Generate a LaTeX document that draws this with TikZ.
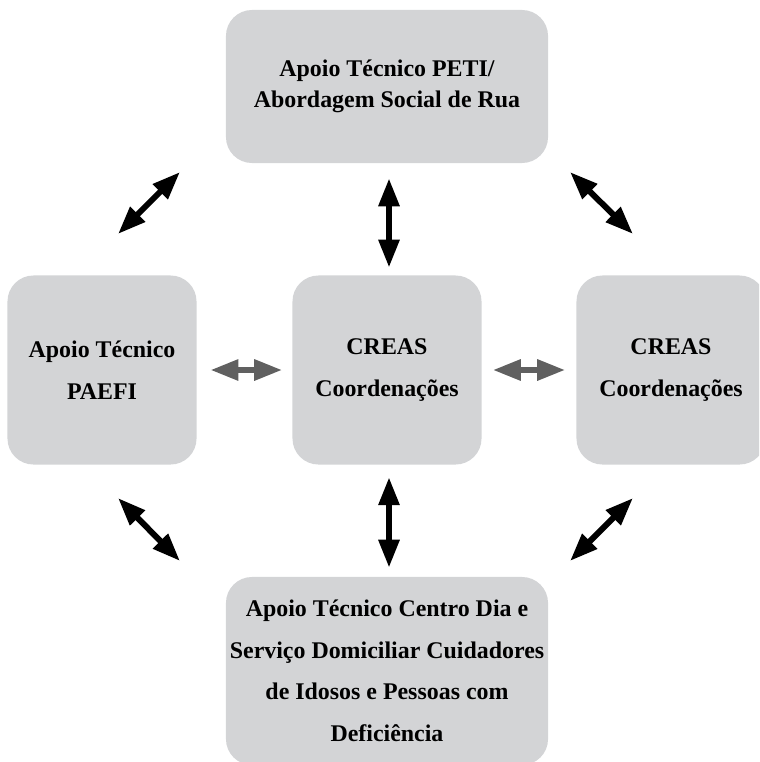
\documentclass[tikz,border=0pt]{standalone}
\usepackage{fontspec}
\setmainfont{Liberation Serif}
\usetikzlibrary{arrows.meta}
\definecolor{boxgray}{RGB}{211,212,214}
\definecolor{arrowgray}{RGB}{96,96,96}

\begin{document}
\begin{tikzpicture}[x=0.025cm, y=-0.025cm,
  box/.style={fill=boxgray, rounded corners=0.65cm, inner sep=0pt, align=center,
    minimum width=4.725cm, minimum height=4.725cm, font=\bfseries\fontsize{17}{30}\selectfont},
  widebox/.style={box, minimum width=8.05cm},
  blkarrow/.style={line width=0.15cm, {Triangle[length=0.7cm,width=0.5cm]}-{Triangle[length=0.7cm,width=0.5cm]}},
  grayarrow/.style={blkarrow, draw=arrowgray}]
\useasboundingbox (0,0) rectangle (759,762);
\clip (0,0) rectangle (759,762);

\node [widebox, minimum height=3.825cm, font=\bfseries\fontsize{17}{22}\selectfont] (peti) at (387,86.5) {Apoio Técnico PETI/\\Abordagem Social de Rua};
\node [box] (paefi) at (102,370) {Apoio Técnico\\PAEFI};
\node [box] (creas) at (387,370) {CREAS\\Coordenações};
\node [box] (creasr) at (671,370) {CREAS\\Coordenações};
\node [widebox, minimum height=4.7cm, font=\bfseries\fontsize{17}{29.5}\selectfont] (dia) at (387,671) {Apoio Técnico Centro Dia e\\Serviço Domiciliar Cuidadores\\de Idosos e Pessoas com\\Deficiência};

\coordinate (tl a) at (118,234);
\coordinate (tl b) at (180,172);
\coordinate (tr a) at (570,172);
\coordinate (tr b) at (633,234);
\coordinate (bl a) at (118,498);
\coordinate (bl b) at (180,561);
\coordinate (br a) at (633,498);
\coordinate (br b) at (570,561);

\draw [blkarrow] (tl a) -- (tl b);
\draw [blkarrow] (tr a) -- (tr b);
\draw [blkarrow] (bl a) -- (bl b);
\draw [blkarrow] (br a) -- (br b);
\draw [blkarrow, shorten <=0.375cm, shorten >=0.19cm] ([xshift=0.05cm]peti.south) -- ([xshift=0.05cm]creas.north);
\draw [blkarrow, shorten <=0.31cm, shorten >=0.225cm] ([xshift=0.05cm]creas.south) -- ([xshift=0.05cm]dia.north);
\draw [grayarrow, shorten <=0.34cm, shorten >=0.25cm] (paefi.east) -- (creas.west);
\draw [grayarrow, shorten <=0.275cm, shorten >=0.275cm] (creas.east) -- (creasr.west);
\end{tikzpicture}
\end{document}
